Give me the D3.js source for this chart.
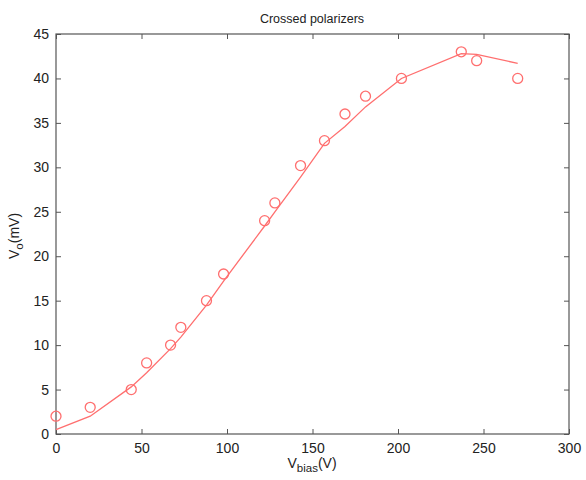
<!DOCTYPE html>
<html><head><meta charset="utf-8">
<script src="https://cdn.jsdelivr.net/npm/d3@7"></script>
<style>body{margin:0;background:#fff}svg{display:block}text{font-family:"Liberation Sans",Arial,sans-serif;fill:#222}</style>
</head><body><svg id="c" width="586" height="480"></svg>
<script>
const vBias = [0,20,44,53,67,73,88,98,122,128,143,157,169,181,202,237,246,270];
const vOut  = [2,3,5,8,10,12,15,18,24,26,30.2,33,36,38,40,43,42,40];
const vFit  = [0.5,2.0,5.3,6.9,9.6,10.9,14.5,17.2,23.4,25.0,28.9,32.7,34.6,36.8,40.0,42.8,42.7,41.7];
const xTicks = [0,50,100,150,200,250,300];
const yTicks = [0,5,10,15,20,25,30,35,40,45];

const svg = d3.select("#c");
const x = d3.scaleLinear().domain([0,300]).range([56,569]);
const y = d3.scaleLinear().domain([0,45]).range([434,34]);
const col = "#ff6f6f", axc = "#555";

// frame
svg.append("rect").attr("x",56).attr("y",34).attr("width",513).attr("height",400)
  .attr("fill","none").attr("stroke",axc).attr("stroke-width",1.2);

const gBottom = svg.append("g").attr("transform","translate(0,434)")
  .call(d3.axisBottom(x).tickValues(xTicks).tickSize(-5).tickPadding(9).tickFormat(d3.format("d")));
const gTop = svg.append("g").attr("transform","translate(0,34)")
  .call(d3.axisTop(x).tickValues(xTicks).tickSize(-5).tickFormat(""));
const gLeft = svg.append("g").attr("transform","translate(56,0)")
  .call(d3.axisLeft(y).tickValues(yTicks).tickSize(-5).tickPadding(7).tickFormat(d3.format("d")));
const gRight = svg.append("g").attr("transform","translate(569,0)")
  .call(d3.axisRight(y).tickValues(yTicks).tickSize(-5).tickFormat(""));
[gBottom,gTop,gLeft,gRight].forEach(g=>{
  g.select(".domain").remove();
  g.selectAll("line").attr("stroke",axc);
  g.selectAll("text").attr("font-size",14).attr("fill","#222").style("font-family","Liberation Sans, Arial, sans-serif");
});

// fit line
svg.append("path").datum(vBias.map((d,i)=>[d,vFit[i]]))
  .attr("fill","none").attr("stroke",col).attr("stroke-width",1.3)
  .attr("d", d3.line().x(d=>x(d[0])).y(d=>y(d[1])));

// data circles
svg.append("g").selectAll("circle").data(vBias.map((d,i)=>[d,vOut[i]])).join("circle")
  .attr("cx",d=>x(d[0])).attr("cy",d=>y(d[1])).attr("r",5)
  .attr("fill","none").attr("stroke",col).attr("stroke-width",1.3);

// title
svg.append("text").attr("x",312).attr("y",23).attr("text-anchor","middle").attr("font-size",12.5).text("Crossed polarizers");
// x label
const xl = svg.append("text").attr("x",312).attr("y",468).attr("text-anchor","middle").attr("font-size",14);
xl.append("tspan").text("V");
xl.append("tspan").attr("font-size",11.5).attr("dy",4).text("bias");
xl.append("tspan").attr("dy",-4).text("(V)");
// y label
const yl = svg.append("text").attr("transform","translate(19,236) rotate(-90)").attr("text-anchor","middle").attr("font-size",14);
yl.append("tspan").text("V");
yl.append("tspan").attr("font-size",11.5).attr("dy",4).text("o");
yl.append("tspan").attr("dy",-4).text("(mV)");
</script></body></html>
